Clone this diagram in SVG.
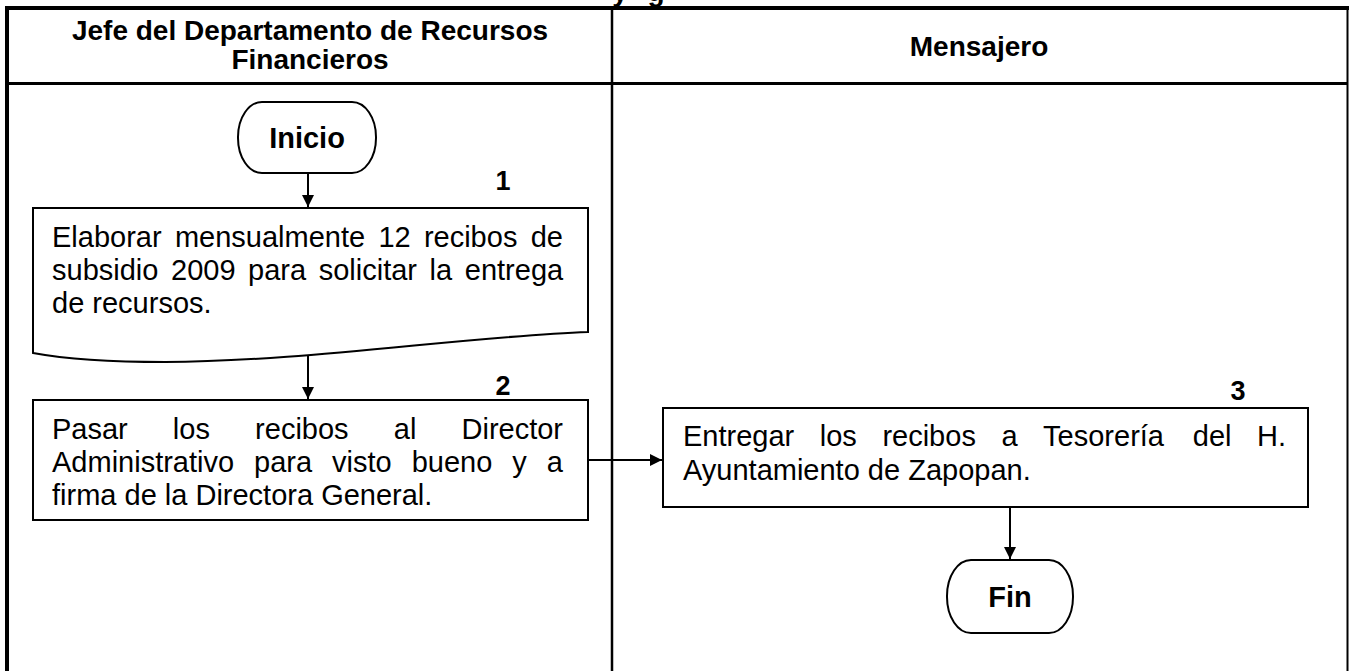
<svg xmlns="http://www.w3.org/2000/svg" width="1349" height="671" viewBox="0 0 1349 671">
<style>
.frame{fill:none;stroke:#000}
.box{fill:#fff;stroke:#000;stroke-width:2}
.t{font-family:"Liberation Sans",Arial,sans-serif;font-size:29px;fill:#000}
.h{font-family:"Liberation Sans",Arial,sans-serif;font-size:28px;font-weight:bold;fill:#000;text-anchor:middle}
.b{font-family:"Liberation Sans",Arial,sans-serif;font-size:29px;font-weight:bold;fill:#000;text-anchor:middle}
.n{font-family:"Liberation Sans",Arial,sans-serif;font-size:27px;font-weight:bold;fill:#000;text-anchor:middle}
.c{fill:none;stroke:#000;stroke-width:2}
</style>
<defs>
<marker id="ah" viewBox="0 0 10 10" refX="10" refY="5" markerWidth="7" markerHeight="6" markerUnits="strokeWidth" orient="auto">
<path d="M0,0 L10,5 L0,10 Z" fill="#000"/>
</marker>
</defs>
<rect width="1349" height="671" fill="#fff"/>
<g id="clipped-title">
<text class="h" x="620" y="1">y</text>
<text class="h" x="656" y="1">g</text>
</g>
<g id="frame">
<line class="frame" x1="5" y1="8" x2="1349" y2="8" stroke-width="4"/>
<line class="frame" x1="7" y1="6" x2="7" y2="671" stroke-width="4"/>
<line class="frame" x1="1347.5" y1="8" x2="1347.5" y2="671" stroke-width="2"/>
<line class="frame" x1="7" y1="83.5" x2="1348" y2="83.5" stroke-width="3"/>
<line class="frame" x1="612" y1="8" x2="612" y2="671" stroke-width="2.5"/>
</g>
<g id="lane-headers">
<text class="h" x="310" y="40">Jefe del Departamento de Recursos</text>
<text class="h" x="310" y="69">Financieros</text>
<text class="h" x="979" y="56">Mensajero</text>
</g>
<g id="connectors">
<line class="c" x1="308" y1="173" x2="308" y2="207" marker-end="url(#ah)"/>
<line class="c" x1="308" y1="356" x2="308" y2="399" marker-end="url(#ah)"/>
<line class="c" x1="588" y1="460" x2="662" y2="460" marker-end="url(#ah)"/>
<line class="c" x1="1010" y1="507" x2="1010" y2="559" marker-end="url(#ah)"/>
</g>
<g id="inicio">
<rect class="box" x="238" y="102" width="138" height="71" rx="24" ry="35"/>
<text class="b" x="307" y="148">Inicio</text>
</g>
<g id="step1">
<path class="box" d="M33,208 H588 V332 C470,336 300,362 165,362 C100,362 60,358 33,353 Z"/>
<text class="n" x="503" y="190">1</text>
<text class="t" y="247"><tspan x="52">Elaborar</tspan><tspan x="174.9">mensualmente</tspan><tspan x="378.4">12</tspan><tspan x="423.9">recibos</tspan><tspan x="530.7">de</tspan></text>
<text class="t" y="280"><tspan x="52">subsidio</tspan><tspan x="171">2009</tspan><tspan x="248.1">para</tspan><tspan x="318.7">solicitar</tspan><tspan x="429.6">la</tspan><tspan x="464.8">entrega</tspan></text>
<text class="t" x="52" y="313">de recursos.</text>
</g>
<g id="step2">
<rect class="box" x="33" y="400" width="555" height="120"/>
<text class="n" x="503" y="395">2</text>
<text class="t" y="439"><tspan x="52">Pasar</tspan><tspan x="172.85">los</tspan><tspan x="255.1">recibos</tspan><tspan x="393.75">al</tspan><tspan x="461.5">Director</tspan></text>
<text class="t" y="472"><tspan x="52">Administrativo</tspan><tspan x="254.1">para</tspan><tspan x="332.1">visto</tspan><tspan x="411.7">bueno</tspan><tspan x="512.3">y</tspan><tspan x="546.8">a</tspan></text>
<text class="t" x="52" y="505">firma de la Directora General.</text>
</g>
<g id="step3">
<rect class="box" x="663" y="408" width="645" height="99"/>
<text class="n" x="1238" y="400">3</text>
<text class="t" y="446"><tspan x="683">Entregar</tspan><tspan x="819.75">los</tspan><tspan x="882.4">recibos</tspan><tspan x="1001.45">a</tspan><tspan x="1043.1">Tesorería</tspan><tspan x="1192.75">del</tspan><tspan x="1257">H.</tspan></text>
<text class="t" x="683" y="480">Ayuntamiento de Zapopan.</text>
</g>
<g id="fin">
<rect class="box" x="947" y="560" width="126" height="73" rx="24" ry="36"/>
<text class="b" x="1010" y="607">Fin</text>
</g>
</svg>
